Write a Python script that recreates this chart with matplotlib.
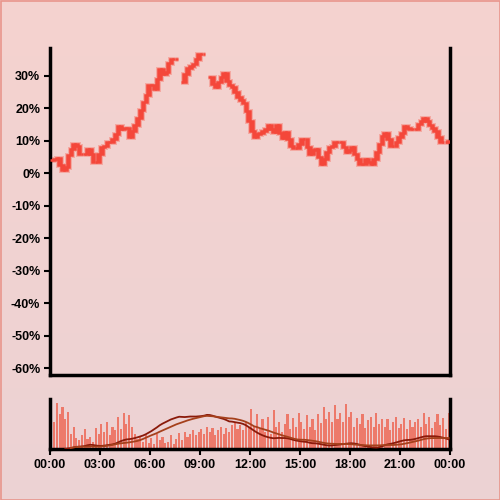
import numpy as np
import pandas as pd
import matplotlib
matplotlib.use("Agg")
import matplotlib.pyplot as plt
from matplotlib.patches import Rectangle

# ---- data (percent change, 10-minute candles, closes) ----
close = [4, 4.3, 4.6, 2.5, 1, 2, 5.5, 7.5, 9, 8.5, 6, 6,
         6, 7.5, 6, 3.5, 3.5, 6, 8, 8.5, 9.5, 9.5, 10.5, 12,
         14.5, 13.5, 14, 14, 11, 13, 14.7, 17, 19.5, 22, 24, 27,
         27, 26, 29, 32, 30.5, 31, 34, 35, 35, 35, np.nan, 28,
         30.5, 32.5, 33, 33.7, 35, 36.8, 36.8, 36.8, np.nan, 29.5, 27.5, 26.4,
         28, 29.5, 30.7, 28.5, 27, 26.5, 25, 23.5, 22.5, 21.5, 19, 16,
         13, 11, 12, 12.5, 13, 13.5, 14.7, 13.5, 12.6, 14.7, 12.5, 10.7,
         12.6, 10.5, 8.5, 7.7, 7.7, 9, 10.5, 10.5, 8, 6, 7, 7.5,
         5, 3, 4.5, 6.5, 8, 8.5, 9.5, 9.5, 9.5, 8, 6.5, 7,
         8, 6, 4.5, 3, 3, 4.5, 3.5, 2.8, 4.5, 6.5, 9, 11.5,
         12.5, 10.5, 8.5, 8.5, 9.5, 11, 12.5, 14.5, 14, 13.5, 13.5, 13.5,
         15, 16, 17, 16, 14.7, 14, 13, 11, 9.5, 9.5, 9.5, 10]
candle_hours = 1 / 6

# volume (10-minute bars, relative units)
volume = [88, 55, 92, 70, 85, 60,
          75, 30, 45, 22, 18, 28,
          40, 20, 25, 15, 42, 30,
          50, 35, 55, 28, 45, 38,
          65, 40, 72, 50, 68, 45,
          30, 20, 25, 15, 28, 12,
          22, 10, 30, 18, 25, 12,
          15, 28, 10, 20, 32, 18,
          35, 25, 30, 38, 28, 35,
          40, 30, 45, 35, 42, 28,
          38, 45, 30, 42, 35, 48,
          52, 40, 48, 38, 55, 45,
          80, 45, 70, 40, 60, 35,
          65, 30, 78, 45, 55, 35,
          50, 70, 40, 62, 45, 72,
          55, 40, 68, 45, 60, 38,
          70, 52, 85, 60, 75, 55,
          88, 60, 72, 55, 90, 65,
          75, 45, 62, 50, 70, 42,
          58, 65, 45, 72, 50, 60,
          45, 60, 38, 55, 65, 42,
          50, 62, 40, 58, 45, 55,
          60, 45, 72, 50, 65, 42,
          55, 70, 48, 62, 40, 72]
volume_hours = 1 / 6

y_ticks = [-60, -50, -40, -30, -20, -10, 0, 10, 20, 30]
x_ticks = [0, 3, 6, 9, 12, 15, 18, 21, 24]
x_labels = ["00:00", "03:00", "06:00", "09:00", "12:00", "15:00", "18:00", "21:00", "00:00"]

# ---- figure ----
plt.rcParams['font.family'] = ['Liberation Sans', 'DejaVu Sans']
fig = plt.figure(figsize=(5, 5), dpi=100)

bg = fig.add_axes([0, 0, 1, 1], zorder=-10)
grad = np.linspace(0, 1, 256).reshape(-1, 1)
top = np.array([245, 211, 207]) / 255
bot = np.array([236, 210, 212]) / 255
img = top[None, None, :] * (1 - grad[:, :, None]) + bot[None, None, :] * grad[:, :, None]
bg.imshow(img, aspect='auto', extent=[0, 1, 0, 1])
bg.set_axis_off()
fig.patches.append(Rectangle((0.001, 0.001), 0.998, 0.998, transform=fig.transFigure,
                             fill=False, edgecolor='#e8958c', linewidth=1.2))

ax = fig.add_axes([0.1, 0.25, 0.8, 0.654])
axv = fig.add_axes([0.1, 0.102, 0.8, 0.1])
for a in (ax, axv):
    a.set_facecolor('none')
    a.spines['top'].set_visible(False)
    for s in ('left', 'right', 'bottom'):
        a.spines[s].set_linewidth(2.5)
        a.spines[s].set_color('black')

c = pd.Series(close, dtype=float)
o = c.shift(1)
o.iloc[0] = c.iloc[0]
o = o.fillna(c)
t = np.arange(len(c)) * candle_hours + candle_hours / 2

body_bottom = np.minimum(o, c)
body_h = np.abs(c - o)
ax.bar(t, body_h, bottom=body_bottom, width=candle_hours * 0.9,
       color='#f4aaa3', edgecolor='#f4aaa3', linewidth=3.6, zorder=2)
ax.bar(t, body_h, bottom=body_bottom, width=candle_hours * 0.9,
       color='#f4473a', edgecolor='#f4473a', linewidth=1.8, zorder=3)

ax.set_xlim(0, 24)
ax.set_ylim(-62, 38.5)
ax.set_yticks(y_ticks)
ax.set_yticklabels([f"{v}%" for v in y_ticks])
ax.set_xticks([])
ax.tick_params(axis='y', length=4, width=1.5, labelsize=9, pad=3)
for lab in ax.get_yticklabels():
    lab.set_fontweight('bold')

tv = np.arange(len(volume)) * volume_hours + volume_hours / 2
axv.bar(tv, volume, width=volume_hours * 0.75, color='#ee6f5f', alpha=0.9, zorder=2)
axv.set_xlim(0, 24)
axv.set_ylim(0, 100)
axv.set_yticks([])
axv.set_xticks(x_ticks)
axv.set_xticklabels(x_labels)
axv.tick_params(axis='x', length=4, width=1.5, labelsize=9, pad=3)
for lab in axv.get_xticklabels():
    lab.set_fontweight('bold')

axm = axv.twinx()
axm.set_axis_off()
ma_fast = c.rolling(9, min_periods=6).mean()
ma_slow = c.rolling(18, min_periods=8).mean()
axm.plot(t, ma_fast, color='#8a1a0a', linewidth=1.3, zorder=3)
axm.plot(t, ma_slow, color='#a5401c', linewidth=1.3, zorder=3)
axm.set_xlim(0, 24)
axm.set_ylim(3, 49)

fig.savefig("out.png", dpi=100)
